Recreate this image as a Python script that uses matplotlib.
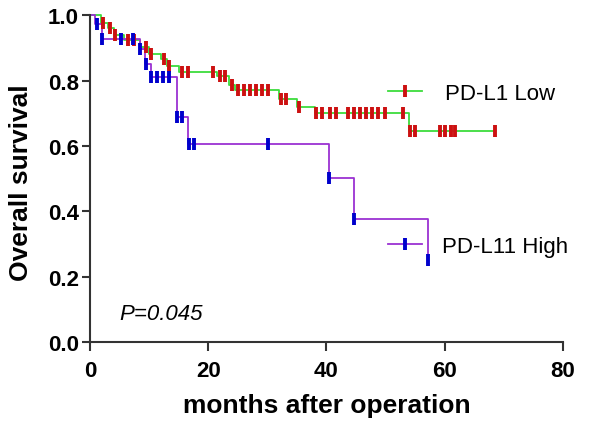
import numpy as np
import matplotlib
matplotlib.use("Agg")
from matplotlib import pyplot as plt
from matplotlib.lines import Line2D

plt.rcParams["font.family"] = ["Liberation Sans", "DejaVu Sans"]

# Kaplan-Meier steps (time in months, survival after step)
low_t = [0, 1.8, 3.0, 4.0, 5.8, 8.5, 10.0, 12.0, 13.0, 15.0, 21.5, 23.5, 24.5,
         32.0, 35.0, 38.0, 54.0, 68.5]
low_s = [1.0, 0.975, 0.96, 0.94, 0.924, 0.904, 0.88, 0.865, 0.845, 0.826, 0.814,
         0.786, 0.771, 0.745, 0.72, 0.70, 0.646, 0.646]
low_cens = [2.25, 3.3, 4.3, 6.4, 7.4, 9.4, 10.4, 12.6, 13.4, 15.6, 16.5, 20.8,
            22.0, 22.8, 24.0, 25.1, 26.1, 27.1, 28.1, 29.1, 30.1, 32.4, 33.2,
            35.3, 38.3, 39.3, 40.6, 41.6, 43.6, 44.6, 45.7, 46.7, 47.7, 48.7,
            49.9, 53.0, 54.1, 55.0, 59.2, 60.1, 61.0, 61.8, 68.5]

high_t = [0, 0.85, 2.1, 8.45, 9.3, 10.3, 14.7, 16.5, 40.5, 44.6, 57.2]
high_s = [1.0, 0.972, 0.926, 0.896, 0.85, 0.81, 0.688, 0.605, 0.502, 0.376, 0.252]
high_cens = [1.1, 2.1, 5.2, 7.3, 8.45, 9.4, 10.4, 11.4, 12.4, 13.4, 14.8, 15.6,
             16.7, 17.6, 30.1, 40.5, 44.6, 57.2]

labels = ["PD-L1 Low", "PD-L11 High"]
p_text = "P=0.045"

green, red = "#3ddc3d", "#cc1111"
purple, blue = "#9b32d2", "#0000cc"


def level_at(t, times, surv):
    i = np.searchsorted(times, t, side="right") - 1
    return np.array(surv)[i]


fig = plt.figure(figsize=(6, 4.27), dpi=100)
ax = fig.add_axes([0.15, 0.196, 0.788, 0.766])

ax.step(low_t, low_s, where="post", color=green, lw=1.3, clip_on=False, zorder=2)
ax.step(high_t, high_s, where="post", color=purple, lw=1.3, clip_on=False, zorder=2)
ax.plot(low_cens, level_at(low_cens, low_t, low_s), ls="none", marker="|",
        ms=8, mew=2.8, color=red, clip_on=False, zorder=3)
ax.plot(high_cens, level_at(high_cens, high_t, high_s), ls="none", marker="|",
        ms=8, mew=2.8, color=blue, clip_on=False, zorder=3)

h_low = Line2D([], [], color=green, lw=1.3, marker="|", ms=8, mew=2.8,
               markeredgecolor=red)
h_high = Line2D([], [], color=purple, lw=1.3, marker="|", ms=8, mew=2.8,
                markeredgecolor=blue)
leg1 = ax.legend([h_low], [labels[0]], loc="center left", bbox_to_anchor=(0.63, 0.762),
                 frameon=False, fontsize=16, handlelength=1.55, handletextpad=1.0,
                 borderpad=0, borderaxespad=0, numpoints=1)
ax.add_artist(leg1)
ax.legend([h_high], [labels[1]], loc="center left", bbox_to_anchor=(0.63, 0.294),
          frameon=False, fontsize=16, handlelength=1.55, handletextpad=0.9,
          borderpad=0, borderaxespad=0, numpoints=1)

ax.text(0.063, 0.088, p_text, transform=ax.transAxes, fontsize=16,
        style="italic", va="center", ha="left")

ax.set_xlim(0, 80)
ax.set_ylim(0, 1.0)
ax.set_xticks([0, 20, 40, 60, 80])
ax.set_yticks([0.0, 0.2, 0.4, 0.6, 0.8, 1.0])
ax.set_yticklabels(["0.0", "0.2", "0.4", "0.6", "0.8", "1.0"])
for s in ["top", "right"]:
    ax.spines[s].set_visible(False)
for s in ["left", "bottom"]:
    ax.spines[s].set_linewidth(1.5)
    ax.spines[s].set_color("#333333")
ax.tick_params(direction="out", length=6, width=1.5, color="#333333",
               labelsize=16, pad=2)
ax.tick_params(axis="x", length=6.5, pad=6)
for lb in ax.get_xticklabels() + ax.get_yticklabels():
    lb.set_fontweight("bold")

ax.set_xlabel("months after operation", fontsize=19, fontweight="bold", labelpad=9)
ax.set_ylabel("Overall survival", fontsize=19, fontweight="bold")
ax.yaxis.set_label_coords(-0.12, 0.49)

fig.savefig("out.png", dpi=100)
